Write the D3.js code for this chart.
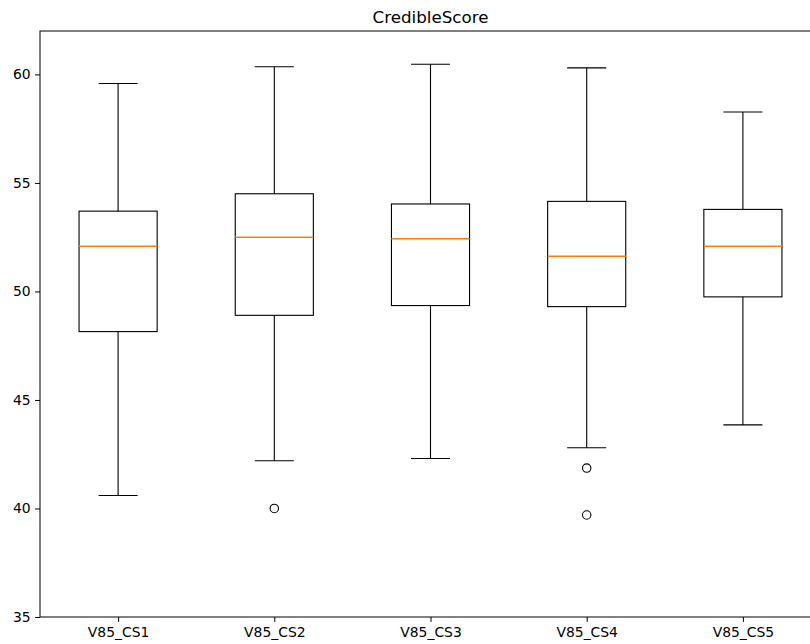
<!DOCTYPE html>
<html>
<head>
<meta charset="utf-8">
<script src="https://cdn.jsdelivr.net/npm/d3@7"></script>
<style>
  body { margin: 0; background: #fff; }
  svg { display: block; font-family: "DejaVu Sans", sans-serif; }
</style>
</head>
<body>
<div id="chart"></div>
<script>
// box statistics
let names = ["V85_CS1", "V85_CS2", "V85_CS3", "V85_CS4", "V85_CS5"];
let whiskLow = [40.6, 42.2, 42.3, 42.8, 43.85];
let q1 = [48.15, 48.9, 49.35, 49.3, 49.75];
let medians = [52.08, 52.5, 52.43, 51.62, 52.08];
let q3 = [53.7, 54.5, 54.03, 54.15, 53.78];
let whiskHigh = [59.58, 60.35, 60.47, 60.3, 58.27];
let outliers = [[], [40.0], [], [41.86, 39.7], []];
let yTicks = [35, 40, 45, 50, 55, 60];

let width = 810, height = 644;
let margin = { top: 31, left: 40, bottom: 617, right: 821 };

let svg = d3.select("#chart").append("svg")
    .attr("width", width)
    .attr("height", height);

let xScale = d3.scaleLinear().domain([0.5, 5.5]).range([margin.left, margin.right]);
let yScale = d3.scaleLinear().domain([35, 62]).range([margin.bottom, margin.top]);

let boxes = names.map((n, i) => ({
    name: n, pos: i + 1,
    lo: whiskLow[i], q1: q1[i], med: medians[i], q3: q3[i], hi: whiskHigh[i],
    out: outliers[i]
}));

let halfBox = (xScale(1.25) - xScale(1)) ;
let halfCap = halfBox / 2;

let g = svg.append("g");

// whiskers
g.selectAll(".whisk-lo").data(boxes).enter().append("line")
    .attr("x1", d => xScale(d.pos)).attr("x2", d => xScale(d.pos))
    .attr("y1", d => yScale(d.q1)).attr("y2", d => yScale(d.lo))
    .attr("stroke", "#000").attr("stroke-width", 1.1);
g.selectAll(".whisk-hi").data(boxes).enter().append("line")
    .attr("x1", d => xScale(d.pos)).attr("x2", d => xScale(d.pos))
    .attr("y1", d => yScale(d.q3)).attr("y2", d => yScale(d.hi))
    .attr("stroke", "#000").attr("stroke-width", 1.1);

// caps
g.selectAll(".cap-lo").data(boxes).enter().append("line")
    .attr("x1", d => xScale(d.pos) - halfCap).attr("x2", d => xScale(d.pos) + halfCap)
    .attr("y1", d => yScale(d.lo)).attr("y2", d => yScale(d.lo))
    .attr("stroke", "#000").attr("stroke-width", 1.1);
g.selectAll(".cap-hi").data(boxes).enter().append("line")
    .attr("x1", d => xScale(d.pos) - halfCap).attr("x2", d => xScale(d.pos) + halfCap)
    .attr("y1", d => yScale(d.hi)).attr("y2", d => yScale(d.hi))
    .attr("stroke", "#000").attr("stroke-width", 1.1);

// boxes
g.selectAll(".box").data(boxes).enter().append("rect")
    .attr("x", d => xScale(d.pos) - halfBox)
    .attr("width", halfBox * 2)
    .attr("y", d => yScale(d.q3))
    .attr("height", d => yScale(d.q1) - yScale(d.q3))
    .attr("fill", "none").attr("stroke", "#000").attr("stroke-width", 1.1);

// medians
g.selectAll(".median").data(boxes).enter().append("line")
    .attr("x1", d => xScale(d.pos) - halfBox).attr("x2", d => xScale(d.pos) + halfBox)
    .attr("y1", d => yScale(d.med)).attr("y2", d => yScale(d.med))
    .attr("stroke", "#ff7f0e").attr("stroke-width", 1.4);

// fliers
let fliers = [];
boxes.forEach(b => b.out.forEach(v => fliers.push({ pos: b.pos, v: v })));
g.selectAll(".flier").data(fliers).enter().append("circle")
    .attr("cx", d => xScale(d.pos)).attr("cy", d => yScale(d.v))
    .attr("r", 4.2).attr("fill", "none").attr("stroke", "#000").attr("stroke-width", 1.1);

// axes
let yAxis = d3.axisLeft(yScale).tickValues(yTicks).tickSize(4.9).tickPadding(4.5);
let xAxis = d3.axisBottom(xScale).tickValues(boxes.map(d => d.pos))
    .tickFormat((d, i) => names[i]).tickSize(4.9).tickPadding(5.5);

let ya = svg.append("g").attr("transform", `translate(${margin.left},0)`).call(yAxis);
let xa = svg.append("g").attr("transform", `translate(0,${margin.bottom})`).call(xAxis);
[ya, xa].forEach(a => {
    a.select(".domain").remove();
    a.selectAll("text").style("font-size", "13.9px").style("font-family", "DejaVu Sans").attr("fill", "#000");
    a.selectAll("line").attr("stroke", "#000").attr("stroke-width", 1);
});

// frame
svg.append("rect")
    .attr("x", margin.left).attr("y", margin.top)
    .attr("width", margin.right - margin.left).attr("height", margin.bottom - margin.top)
    .attr("fill", "none").attr("stroke", "#000").attr("stroke-width", 1);

svg.append("text")
    .attr("x", (margin.left + margin.right) / 2)
    .attr("y", 23)
    .attr("text-anchor", "middle")
    .style("font-size", "16.7px")
    .text("CredibleScore");
</script>
</body>
</html>
